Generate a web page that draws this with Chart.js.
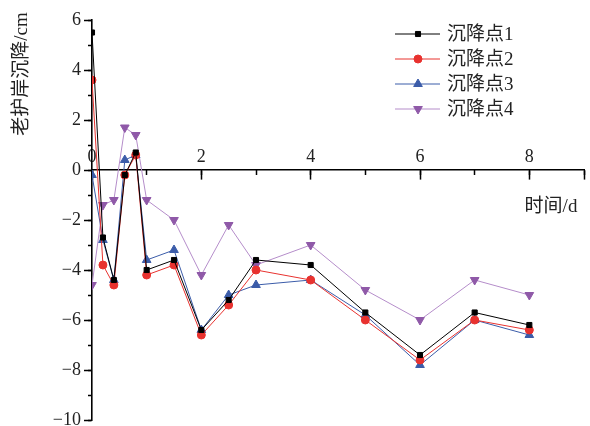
<!DOCTYPE html>
<html>
<head>
<meta charset="utf-8">
<script src="https://cdn.jsdelivr.net/npm/chart.js@4.4.1/dist/chart.umd.min.js"></script>
<style>
html,body{margin:0;padding:0;background:#fff;}
#wrap{width:590px;height:426px;position:relative;}
</style>
</head>
<body>
<div id="wrap"><canvas id="c" width="590" height="426"></canvas></div>
<script>
// ---- data ----
const days = [0, 0.2, 0.4, 0.6, 0.8, 1, 1.5, 2, 2.5, 3, 4, 5, 6, 7, 8];
const point1 = [5.5, -2.7, -4.4, -0.2, 0.7, -4.0, -3.6, -6.4, -5.2, -3.6, -3.8, -5.7, -7.4, -5.7, -6.2];
const point2 = [3.6, -3.8, -4.6, -0.2, 0.6, -4.2, -3.8, -6.6, -5.4, -4.0, -4.4, -6.0, -7.6, -6.0, -6.4];
const point3 = [-0.2, -2.8, -4.4, 0.4, 0.6, -3.6, -3.2, -6.4, -5.0, -4.6, -4.4, -5.8, -7.8, -6.0, -6.6];
const point4 = [-4.6, -1.4, -1.2, 1.7, 1.4, -1.2, -2.0, -4.2, -2.2, -3.8, -3.0, -4.8, -6.0, -4.4, -5.0];
const seriesNames = ['沉降点1', '沉降点2', '沉降点3', '沉降点4'];
const xTickLabels = [0, 2, 4, 6, 8];
const yTickLabels = [6, 4, 2, 0, -2, -4, -6, -8, -10];
const xTitle = '时间/d';
const yTitle = '老护岸沉降/cm';

const FONT = '"Liberation Serif", "Noto Sans CJK SC", serif';
const styles = [
  {line: '#000000', fill: '#000000', pointStyle: 'rect', radius: 3.6, rot: 0},
  {line: '#e8322f', fill: '#e8322f', pointStyle: 'circle', radius: 4, rot: 0},
  {line: '#3b5ca9', fill: '#3b5ca9', pointStyle: 'triangle', radius: 5, rot: 0},
  {line: '#b58dca', fill: '#8f59a8', pointStyle: 'triangle', radius: 5, rot: 180}
];
const values = [point1, point2, point3, point4];

const datasets = values.map((vals, i) => ({
  label: seriesNames[i],
  data: days.map((d, k) => ({x: d, y: vals[k]})),
  borderColor: styles[i].line,
  backgroundColor: styles[i].fill,
  pointBackgroundColor: styles[i].fill,
  pointBorderColor: styles[i].fill,
  pointStyle: styles[i].pointStyle,
  pointRadius: styles[i].radius,
  pointRotation: styles[i].rot,
  borderWidth: 1,
  tension: 0
}));

const fmt = v => String(v).replace('-', '\u2212');

const overlay = {
  id: 'overlay',
  afterDraw(chart) {
    const ctx = chart.ctx;
    ctx.save();
    // axis titles
    ctx.fillStyle = '#222';
    ctx.font = '19px ' + FONT;
    ctx.textAlign = 'center';
    ctx.textBaseline = 'middle';
    ctx.fillText(xTitle, 551, 207);
    ctx.translate(22, 74);
    ctx.rotate(-Math.PI / 2);
    ctx.fillText(yTitle, 0, 0);
    ctx.restore();
    // legend
    ctx.save();
    chart.data.datasets.forEach((ds, i) => {
      const y = 34 + i * 25;
      ctx.strokeStyle = ds.borderColor;
      ctx.lineWidth = 1;
      ctx.beginPath();
      ctx.moveTo(395, y);
      ctx.lineTo(440, y);
      ctx.stroke();
      ctx.fillStyle = ds.pointBackgroundColor;
      ctx.strokeStyle = ds.pointBorderColor;
      Chart.helpers.drawPoint(ctx, {pointStyle: ds.pointStyle, radius: ds.pointRadius, rotation: ds.pointRotation, borderWidth: 1}, 418, y);
      ctx.fillStyle = '#222';
      ctx.font = '19px ' + FONT;
      ctx.textAlign = 'left';
      ctx.textBaseline = 'middle';
      ctx.fillText(ds.label, 447, y + 1);
    });
    ctx.restore();
  }
};

const noPad = s => { s.paddingTop = 0; s.paddingBottom = 0; };

new Chart(document.getElementById('c'), {
  type: 'line',
  data: {datasets},
  options: {
    responsive: false,
    animation: false,
    layout: {padding: {left: 0, right: 0, top: 20, bottom: 6}},
    plugins: {legend: {display: false}, tooltip: {enabled: false}},
    scales: {
      x: {
        type: 'linear',
        min: 0, max: 9,
        position: {y: 0},
        grid: {drawOnChartArea: false, drawTicks: true, tickLength: 9, tickWidth: 1.5, tickColor: '#000'},
        border: {display: true, color: '#000', width: 1.6},
        ticks: {
          stepSize: 2,
          padding: -33,
          color: '#222',
          font: {family: FONT, size: 18},
          maxRotation: 0,
          autoSkip: false,
          callback: v => xTickLabels.includes(v) ? fmt(v) : ''
        }
      },
      xMinor: {
        type: 'linear',
        min: 0, max: 9,
        position: {y: 0},
        grid: {drawOnChartArea: false, drawTicks: true, tickLength: 5, tickWidth: 1.5, tickColor: '#000'},
        border: {display: false},
        ticks: {stepSize: 1, display: true, callback: () => '', autoSkip: false}
      },
      y: {
        type: 'linear',
        min: -10, max: 6,
        position: 'left',
        afterFit: s => { s.width = 92; noPad(s); },
        grid: {drawOnChartArea: false, drawTicks: true, tickLength: 8, tickWidth: 1.5, tickColor: '#000'},
        border: {display: true, color: '#000', width: 1.6},
        ticks: {
          stepSize: 2,
          padding: 3,
          color: '#222',
          font: {family: FONT, size: 18},
          autoSkip: false,
          callback: v => yTickLabels.includes(v) ? fmt(v) : ''
        }
      },
      yMinor: {
        type: 'linear',
        min: -10, max: 6,
        position: {x: 0},
        afterFit: noPad,
        grid: {drawOnChartArea: false, drawTicks: true, tickLength: 4, tickWidth: 1.5, tickColor: '#000'},
        border: {display: false},
        ticks: {stepSize: 1, callback: () => '', autoSkip: false}
      }
    }
  },
  plugins: [overlay]
});
</script>
</body>
</html>
